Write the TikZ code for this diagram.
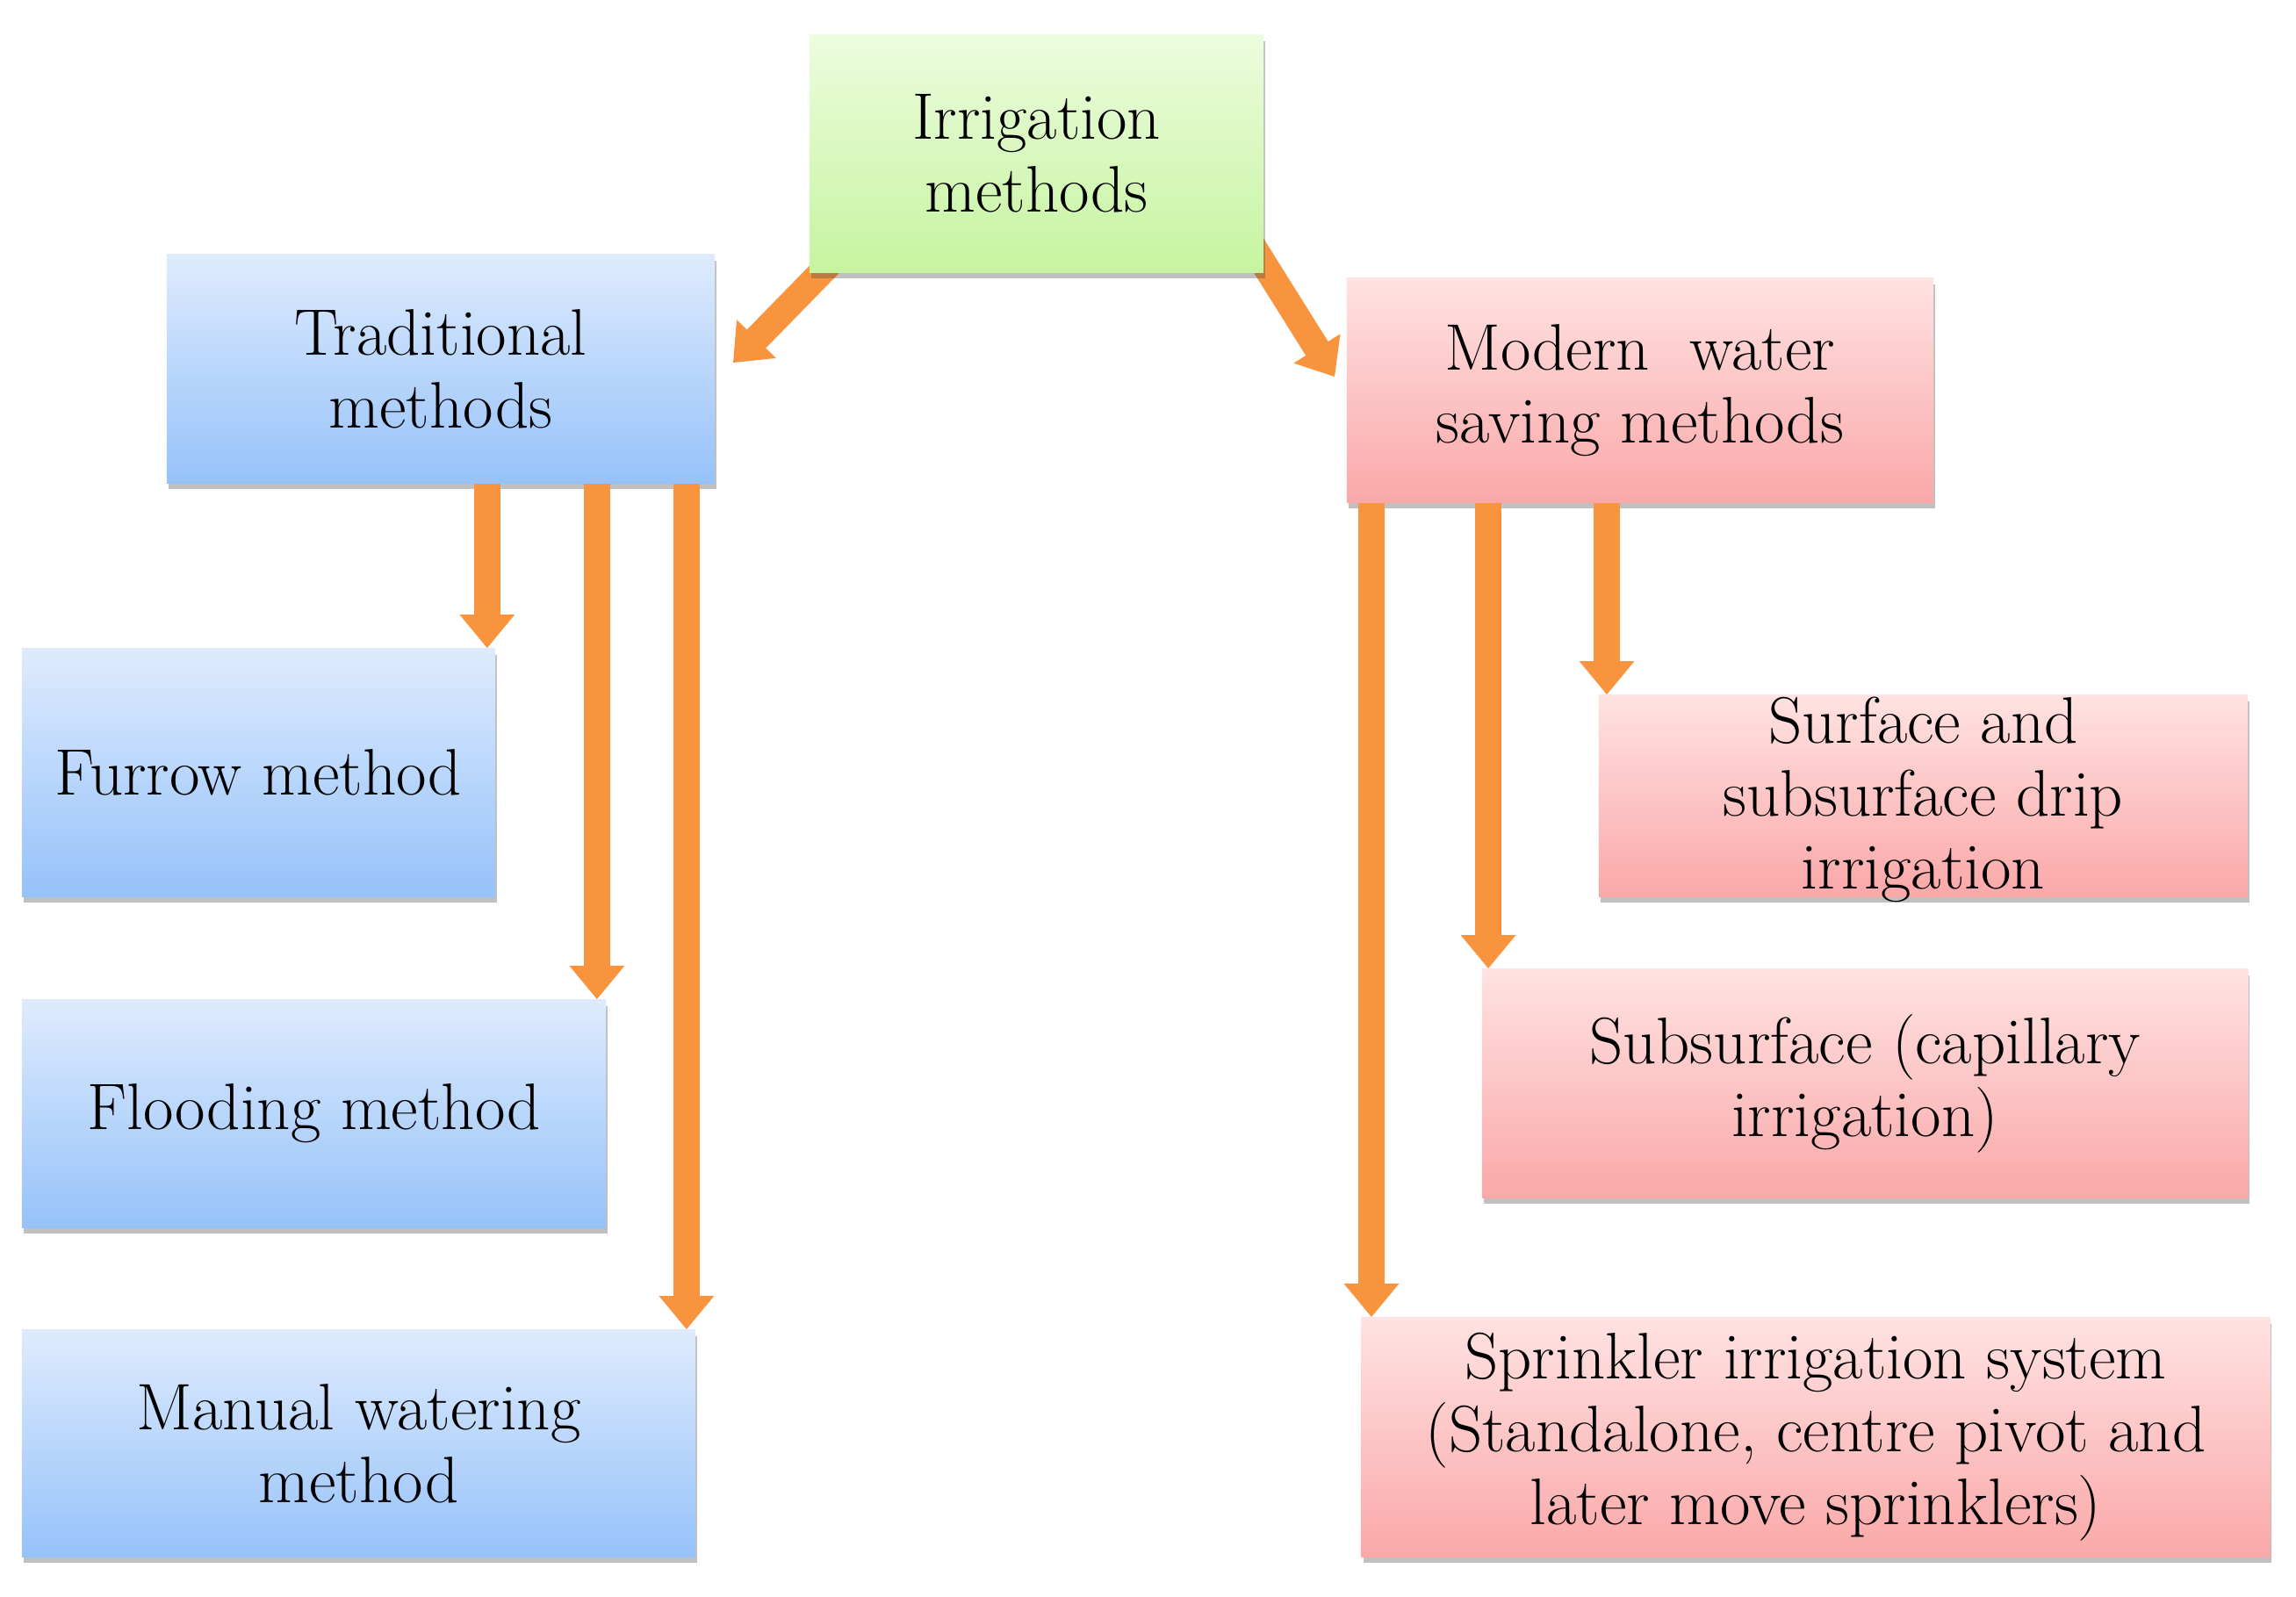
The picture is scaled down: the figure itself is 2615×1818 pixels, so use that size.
\documentclass[tikz,border=0pt]{standalone}
\usetikzlibrary{arrows.meta,shadows,calc}
\definecolor{orng}{RGB}{248,148,62}
\definecolor{bluetop}{RGB}{222,235,253}
\definecolor{bluebot}{RGB}{150,194,250}
\definecolor{greentop}{RGB}{236,252,222}
\definecolor{greenbot}{RGB}{198,244,160}
\definecolor{pinktop}{RGB}{255,226,226}
\definecolor{pinkbot}{RGB}{250,168,168}
\pgfdeclarelayer{bg}
\pgfdeclarelayer{paper}
\pgfsetlayers{paper,bg,main}
\begin{document}
\begin{tikzpicture}[x=0.01cm,y=-0.01cm,
  box/.style={rectangle, inner sep=0pt, align=center,
    font=\fontsize{21.3}{23.6}\selectfont,
    drop shadow={shadow xshift=0.6pt, shadow yshift=-2pt, opacity=0.35, fill=black!70}},
  boxtext/.style={inner sep=0pt, align=center, font=\fontsize{21.3}{23.6}\selectfont},
  bluebox/.style={box, top color=bluetop, bottom color=bluebot},
  greenbox/.style={box, top color=greentop, bottom color=greenbot},
  pinkbox/.style={box, top color=pinktop, bottom color=pinkbot},
  arr/.style={draw=orng, line width=0.30cm, -{Triangle[width=0.60cm,length=0.38cm]}}]
\useasboundingbox (0,0) rectangle (2615,1818);
\begin{pgfonlayer}{paper}
\fill[white] (0,0) rectangle (2615,1818);
\end{pgfonlayer}

% boxes
\node[greenbox, minimum width=5.17cm, minimum height=2.70cm] (irr) at (1180.5,175) {Irrigation\\methods};
\node[bluebox, minimum width=6.24cm, minimum height=2.60cm] (trad) at (502,420) {Traditional\\methods};
\node[pinkbox, minimum width=6.68cm, minimum height=2.55cm] (modern) at (1868,444.5) {Modern\ \ water\\saving methods};
\node[bluebox, minimum width=5.39cm, minimum height=2.82cm] (furrow) at (294.5,880) {Furrow method};
\node[bluebox, minimum width=6.65cm, minimum height=2.59cm] (flood) at (357.5,1268.5) {Flooding method};
\node[bluebox, minimum width=7.67cm, minimum height=2.58cm] (manual) at (408.5,1644) {Manual watering\\method};
\node[pinkbox, minimum width=7.39cm, minimum height=2.29cm] (drip) at (2190.5,906.5) {};
\node[boxtext] (driptext) at ($(drip.center)+(0,4)$) {Surface and\\subsurface drip\\irrigation};
\node[pinkbox, minimum width=8.72cm, minimum height=2.60cm] (cap) at (2124,1234) {Subsurface (capillary\\irrigation)};
\node[pinkbox, minimum width=10.34cm, minimum height=2.72cm] (spr) at (2068,1637) {Sprinkler irrigation system\\(Standalone, centre pivot and\\later move sprinklers)};

% diagonal arrows (behind the top box)
\coordinate (lt) at ($(irr.south west)+(48,-35)$);
\coordinate (lh) at ($(trad.north east)+(20,124)$);
\coordinate (rt) at ($(irr.south east)+(-29,-56)$);
\coordinate (rh) at ($(modern.north west)+(-13,113)$);
\begin{pgfonlayer}{bg}
\draw[arr] (lt) -- (lh);
\draw[arr] (rt) -- (rh);
\end{pgfonlayer}

% vertical arrows
\coordinate (e1) at ($(furrow.north east)+(-10,0)$);
\coordinate (e2) at ($(flood.north east)+(-11,0)$);
\coordinate (e3) at ($(manual.north east)+(-11,0)$);
\draw[arr] (trad.south -| e1) -- (e1);
\draw[arr] (trad.south -| e2) -- (e2);
\draw[arr] (trad.south -| e3) -- (e3);

\coordinate (m1) at ($(drip.north west)+(10,0)$);
\coordinate (m2) at ($(cap.north west)+(8,0)$);
\coordinate (m3) at ($(spr.north west)+(12,0)$);
\draw[arr] (modern.south -| m1) -- (m1);
\draw[arr] (modern.south -| m2) -- (m2);
\draw[arr] (modern.south -| m3) -- (m3);
\end{tikzpicture}
\end{document}
